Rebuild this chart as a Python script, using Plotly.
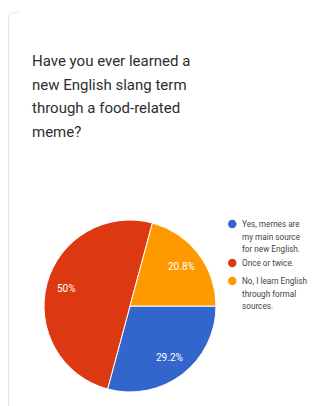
import math
import plotly.graph_objects as go

# page offset: the browser body has an 8px margin
OFF = 8
W, H = 308, 398
title_lines = ["Have you ever learned a", "new English slang term", "through a food-related", "meme?"]
categories = ["Yes, memes are my main source for new English.", "Once or twice.", "No, I learn English through formal sources."]
legend_lines = [["Yes, memes are", "my main source", "for new English."], ["Once or twice."], ["No, I learn English", "through formal", "sources."]]
values = [29.2, 50.0, 20.8]
value_labels = ["29.2%", "50%", "20.8%"]
colors = ["#3366cc", "#dc3912", "#ff9900"]

def fx(x):
    return (x - OFF) / W

def fy(y):
    return 1 - (y - OFF) / H

# pie geometry (page pixels)
CX, CY, R = 130, 306, 86
START = 90  # degrees clockwise from 12 o'clock

fig = go.Figure()
fig.add_trace(go.Pie(
    values=values, labels=categories, sort=False, direction="clockwise", rotation=START,
    marker=dict(colors=colors, line=dict(color="white", width=1)),
    textinfo="none",
    domain=dict(x=[fx(CX - R), fx(CX + R)], y=[fy(CY + R), fy(CY - R)]),
    showlegend=False, hoverinfo="label+percent",
))

# slice labels placed at ~0.76 of the radius, on each slice's mid angle
total = sum(values)
acc = 0.0
for v, lab in zip(values, value_labels):
    mid = START + (acc + v / 2) / total * 360
    acc += v
    a = math.radians(mid)
    lx = CX + 0.76 * R * math.sin(a)
    ly = CY - 0.76 * R * math.cos(a)
    fig.add_annotation(text=lab, x=fx(lx), y=fy(ly), xref="paper", yref="paper",
                       xanchor="center", yanchor="middle", showarrow=False,
                       font=dict(family="Roboto", size=10, color="white"))

# title
for i, t in enumerate(title_lines):
    fig.add_annotation(text=t, x=fx(30), y=fy(61 + 23.7 * i), xref="paper", yref="paper",
                       xanchor="left", yanchor="middle", showarrow=False,
                       font=dict(family="Roboto", size=15, color="#2e2e2e"))

# legend (circle markers + wrapped text)
row_y = [224, 263, 281]
for lines, col, y0 in zip(legend_lines, colors, row_y):
    fig.add_shape(type="circle", xref="paper", yref="paper",
                  x0=fx(228), x1=fx(236.5), y0=fy(y0 + 4.25), y1=fy(y0 - 4.25),
                  fillcolor=col, line=dict(width=0))
    for j, ln in enumerate(lines):
        fig.add_annotation(text=ln, x=fx(239.5), y=fy(y0 + 12.6 * j), xref="paper", yref="paper",
                           xanchor="left", yanchor="middle", showarrow=False,
                           font=dict(family="Roboto", size=8.2, color="#444444"))

# card border
fig.add_shape(type="path", xref="paper", yref="paper",
              path=f"M {fx(8.5)},{fy(406)} L {fx(8.5)},{fy(19)} Q {fx(8.5)},{fy(12.5)} {fx(15)},{fy(12.5)} L {fx(18)},{fy(12.5)}",
              line=dict(color="#e6e6e6", width=1))

fig.update_layout(
    width=W, height=H, margin=dict(l=0, r=0, t=0, b=0, autoexpand=False),
    paper_bgcolor="white", plot_bgcolor="white",
    xaxis=dict(visible=False), yaxis=dict(visible=False),
    showlegend=False,
)
fig.write_html("out.html")
